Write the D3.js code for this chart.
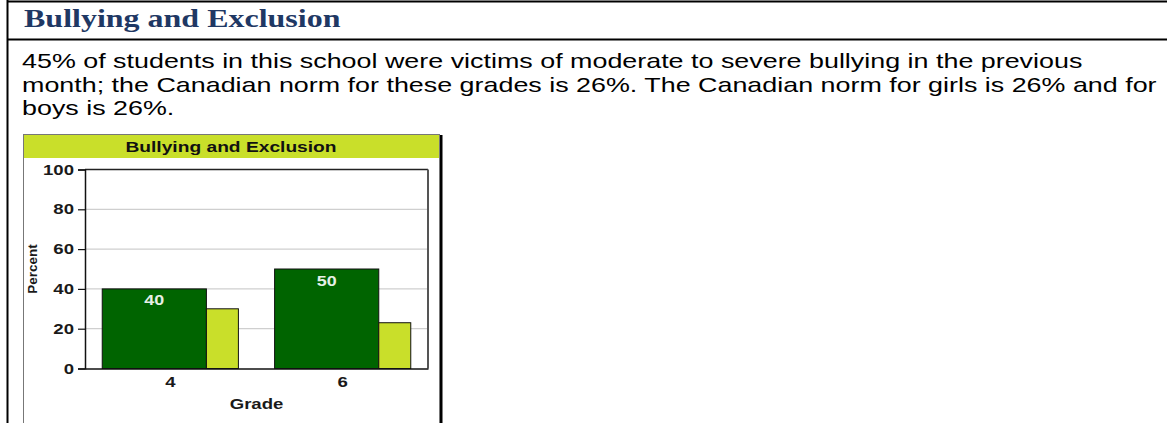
<!DOCTYPE html>
<html>
<head>
<meta charset="utf-8">
<script src="https://cdn.jsdelivr.net/npm/d3@7"></script>
<style>
  body { margin: 0; background: #fff; }
  svg { display: block; }
</style>
</head>
<body>
<div id="page"></div>
<script>
// datos del gráfico
const sectionTitle = "Bullying and Exclusion";
const paragraphLines = [
  "45% of students in this school were victims of moderate to severe bullying in the previous",
  "month; the Canadian norm for these grades is 26%. The Canadian norm for girls is 26% and for",
  "boys is 26%."
];
const chartTitle = "Bullying and Exclusion";
const grades = ["4", "6"];
const schoolValues = [40, 50];   // escuela (verde oscuro)
const normValues = [30, 23];     // norma canadiense (verde claro)
const yTicks = [0, 20, 40, 60, 80, 100];
const xTitle = "Grade";
const yTitle = "Percent";

const width = 1167;
const height = 423;
const SX = 1.28; // la captura original está estirada en horizontal

const svg = d3.select("#page")
  .append("svg")
  .attr("width", width)
  .attr("height", height);

// estira un texto en horizontal alrededor de su punto de anclaje
function estirar(sel) {
  sel.each(function() {
    const t = d3.select(this);
    const x = +t.attr("x") || 0;
    const y = +t.attr("y") || 0;
    t.attr("x", 0).attr("y", 0)
      .attr("transform", `translate(${x},${y}) scale(${SX},1)`);
  });
}

// bordes de la tabla
svg.append("line").attr("x1", 7).attr("x2", width).attr("y1", 1.5).attr("y2", 1.5)
  .attr("stroke", "#000").attr("stroke-width", 2);
svg.append("line").attr("x1", 7).attr("x2", width).attr("y1", 39.5).attr("y2", 39.5)
  .attr("stroke", "#000").attr("stroke-width", 2);
svg.append("line").attr("x1", 7.5).attr("x2", 7.5).attr("y1", 0).attr("y2", height)
  .attr("stroke", "#000").attr("stroke-width", 2);

// encabezado
svg.append("text")
  .attr("x", 24).attr("y", 27)
  .attr("font-family", "'Liberation Serif', 'Times New Roman', serif")
  .attr("font-weight", "bold")
  .attr("font-size", 25)
  .attr("fill", "#1F3864")
  .text(sectionTitle)
  .call(estirar);

// párrafo
svg.append("g").selectAll("text")
  .data(paragraphLines)
  .join("text")
  .attr("x", 22)
  .attr("y", (d, i) => 68 + i * 23.5)
  .attr("font-family", "'Liberation Sans', Arial, sans-serif")
  .attr("font-size", 21)
  .attr("fill", "#000")
  .text(d => d)
  .call(estirar);

// caja del gráfico
const box = { x: 23, y: 134, w: 416, h: 300 };
svg.append("rect").attr("x", box.x + box.w + 1).attr("y", box.y + 1).attr("width", 2.5).attr("height", box.h)
  .attr("fill", "#000");
svg.append("rect").attr("x", box.x + 0.5).attr("y", box.y + 0.5).attr("width", box.w).attr("height", box.h)
  .attr("fill", "#fff").attr("stroke", "#777").attr("stroke-width", 1);
svg.append("rect").attr("x", box.x + 1).attr("y", box.y + 1).attr("width", box.w - 1).attr("height", 23)
  .attr("fill", "#C9DF2A");

const chartFont = "'Liberation Sans', Arial, sans-serif";

svg.append("text")
  .attr("x", box.x + box.w / 2).attr("y", 152)
  .attr("text-anchor", "middle")
  .attr("font-family", chartFont).attr("font-weight", "bold").attr("font-size", 15)
  .attr("fill", "#111")
  .text(chartTitle)
  .call(estirar);

// área de trazado
const plot = { left: 85, right: 428, top: 169.5, bottom: 368.5 };

const x0 = d3.scaleBand()
  .domain(grades)
  .range([plot.left, plot.right])
  .paddingInner(0.21)
  .paddingOuter(0.1);

const y = d3.scaleLinear()
  .domain([0, 100])
  .range([plot.bottom, plot.top]);

const darkShare = 0.765;

// rejilla
svg.append("g").selectAll("line")
  .data(yTicks.filter(t => t > 0 && t < 100))
  .join("line")
  .attr("x1", plot.left).attr("x2", plot.right)
  .attr("y1", d => y(d)).attr("y2", d => y(d))
  .attr("stroke", "#cfcfcf").attr("stroke-width", 1.2);

// marco superior y derecho
svg.append("line").attr("x1", plot.left).attr("x2", plot.right).attr("y1", plot.top).attr("y2", plot.top)
  .attr("stroke", "#222").attr("stroke-width", 1.5);
svg.append("line").attr("x1", plot.right).attr("x2", plot.right).attr("y1", plot.top).attr("y2", plot.bottom)
  .attr("stroke", "#555").attr("stroke-width", 2);

// barras
const grupos = svg.append("g").selectAll("g")
  .data(grades.map((g, i) => ({ grade: g, school: schoolValues[i], norm: normValues[i] })))
  .join("g");

grupos.append("rect")
  .attr("x", d => x0(d.grade))
  .attr("y", d => y(d.school))
  .attr("width", x0.bandwidth() * darkShare)
  .attr("height", d => y(0) - y(d.school))
  .attr("fill", "#006400")
  .attr("stroke", "#111").attr("stroke-width", 1);

grupos.append("rect")
  .attr("x", d => x0(d.grade) + x0.bandwidth() * darkShare)
  .attr("y", d => y(d.norm))
  .attr("width", x0.bandwidth() * (1 - darkShare))
  .attr("height", d => y(0) - y(d.norm))
  .attr("fill", "#C9DF2A")
  .attr("stroke", "#111").attr("stroke-width", 1);

grupos.append("text")
  .attr("x", d => x0(d.grade) + x0.bandwidth() * darkShare / 2)
  .attr("y", d => y(d.school) + 16.5)
  .attr("text-anchor", "middle")
  .attr("font-family", chartFont).attr("font-weight", "bold").attr("font-size", 14)
  .attr("fill", "#e6f0e6")
  .text(d => d.school)
  .call(estirar);

// ejes
const yAxis = svg.append("g")
  .attr("transform", `translate(${plot.left},0)`)
  .call(d3.axisLeft(y).tickValues(yTicks).tickSize(7).tickPadding(4));
yAxis.select(".domain").attr("stroke", "#111").attr("stroke-width", 1.5);
yAxis.selectAll(".tick line").attr("stroke", "#111").attr("stroke-width", 1.2);
yAxis.selectAll(".tick text")
  .attr("font-family", chartFont).attr("font-weight", "bold").attr("font-size", 14.5).attr("fill", "#1a1a1a")
  .call(estirar);

const xAxis = svg.append("g")
  .attr("transform", `translate(0,${plot.bottom})`)
  .call(d3.axisBottom(x0).tickSize(0).tickPadding(8));
xAxis.select(".domain").attr("stroke", "#111").attr("stroke-width", 1.5);
xAxis.selectAll(".tick text")
  .attr("font-family", chartFont).attr("font-weight", "bold").attr("font-size", 14.5).attr("fill", "#1a1a1a")
  .call(estirar);
// las etiquetas del eje x quedan centradas en el grupo completo
xAxis.selectAll(".tick").attr("transform", d => `translate(${x0(d) + x0.bandwidth() / 2},0)`);

svg.append("text")
  .attr("x", (plot.left + plot.right) / 2).attr("y", 409)
  .attr("text-anchor", "middle")
  .attr("font-family", chartFont).attr("font-weight", "bold").attr("font-size", 14.5)
  .attr("fill", "#1a1a1a")
  .text(xTitle)
  .call(estirar);

svg.append("text")
  .attr("transform", `translate(37,${(plot.top + plot.bottom) / 2}) rotate(-90)`)
  .attr("text-anchor", "middle")
  .attr("font-family", chartFont).attr("font-weight", "bold").attr("font-size", 13.5)
  .attr("fill", "#1a1a1a")
  .text(yTitle);
</script>
</body>
</html>
